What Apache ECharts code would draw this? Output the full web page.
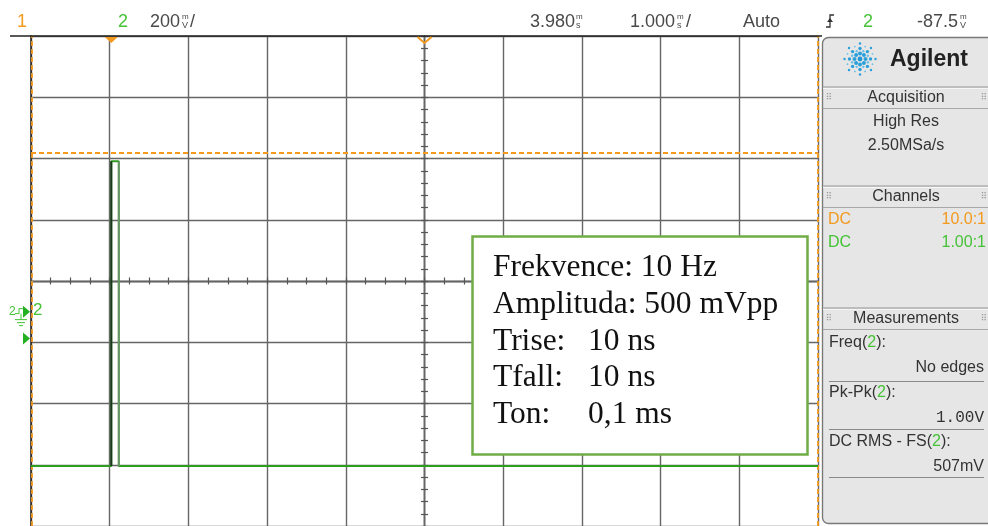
<!DOCTYPE html>
<html><head><meta charset="utf-8">
<script src="https://cdn.jsdelivr.net/npm/echarts@6/dist/echarts.min.js"></script>
<style>html,body{margin:0;padding:0;background:#fff;}#c{width:988px;height:526px;}</style>
</head><body><div id="c"></div>
<script>
// ---------- data ----------
const traceTimeMs = [-1.02, 0.0, 0.0, 0.095, 0.095, 8.98];      // ms
const traceVolts  = [-0.504, -0.504, 0.491, 0.491, -0.504, -0.504]; // V (ch2)
const ch1Level = 0.515;          // orange dashed level (V)
const cursorTimes = [-1.013, 8.98]; // orange dashed verticals (ms)
const triggerTime = 0.0;          // ms
const delayTime = 3.98;           // ms
const ch2Ground = 0.0;            // V
const triggerLevel = -0.0875;     // V
const timeRange = [-1.02, 8.98];
const voltRange = [-0.7, 0.9];

const topBarTexts = ['1', '2', '200', '3.980', '1.000', 'Auto', '2', '-87.5'];
const boxLabels = ['Frekvence: 10 Hz', 'Amplituda: 500 mVpp', 'Trise:', 'Tfall:', 'Ton:'];
const boxValues = ['', '', '10 ns', '10 ns', '0,1 ms'];
const acqTexts = ['High Res', '2.50MSa/s'];
const chanRows = [['DC', '10.0:1'], ['DC', '1.00:1']];
const measNames = ['Freq', 'Pk-Pk', 'DC RMS - FS'];
const measValues = ['No edges', '1.00V', '507mV'];

// ---------- style ----------
const ORANGE = '#f39a1e', GREEN = '#45c236', GRID = '#666666', TXT = '#4a4a4a';
const SANS = '"Liberation Sans", Arial, sans-serif';
const SERIF = '31.5px "Liberation Serif", "Times New Roman", serif';
const chart = echarts.init(document.getElementById('c'), null, {renderer: 'canvas'});
const gridRect = {left: 31, top: 36, width: 787, height: 490};
const tickLine = {color: '#555', width: 1.2};

function centerAxisX(gi, inside) {
  return {gridIndex: gi, type: 'value', min: -5, max: 5, interval: 1,
    axisLine: {show: true, onZero: true, lineStyle: {color: GRID, width: 1.4}},
    axisTick: {show: true, inside: inside, length: 3.5, lineStyle: tickLine},
    minorTick: {show: true, splitNumber: 4, length: 3.5, lineStyle: tickLine},
    axisLabel: {show: false}, splitLine: {show: false}};
}
function centerAxisY(gi, inside) {
  return {gridIndex: gi, type: 'value', min: -4, max: 4, interval: 1,
    axisLine: {show: true, onZero: true, lineStyle: {color: GRID, width: 1.4}},
    axisTick: {show: true, inside: inside, length: 3.5, lineStyle: tickLine},
    minorTick: {show: true, splitNumber: 5, length: 3.5, lineStyle: tickLine},
    axisLabel: {show: false}, splitLine: {show: false}};
}

const pts = traceTimeMs.map((t, i) => [t, traceVolts[i]]);

const option = {
  animation: false,
  backgroundColor: '#ffffff',
  grid: [0, 1, 2, 3].map(() => Object.assign({containLabel: false}, gridRect)),
  xAxis: [
    {gridIndex: 0, type: 'value', min: -5, max: 5, interval: 1,
      axisLine: {show: false}, axisTick: {show: false}, axisLabel: {show: false},
      splitLine: {show: true, lineStyle: {color: GRID, width: 1.4}}},
    centerAxisX(1, false), centerAxisX(2, true),
    {gridIndex: 3, type: 'value', min: timeRange[0], max: timeRange[1], show: false}
  ],
  yAxis: [
    {gridIndex: 0, type: 'value', min: -4, max: 4, interval: 1,
      axisLine: {show: true, onZero: false, lineStyle: {color: '#222', width: 1.5}},
      axisTick: {show: false}, axisLabel: {show: false},
      splitLine: {show: true, lineStyle: {color: GRID, width: 1.4}}},
    centerAxisY(1, false), centerAxisY(2, true),
    {gridIndex: 3, type: 'value', min: voltRange[0], max: voltRange[1], show: false}
  ],
  series: [
    {type: 'line', xAxisIndex: 3, yAxisIndex: 3, data: pts, symbol: 'none', z: 5,
      lineStyle: {color: '#2e9d1f', width: 2},
      markLine: {symbol: 'none', silent: true, label: {show: false},
        lineStyle: {color: ORANGE, type: [5, 3], width: 1.8},
        data: [{yAxis: ch1Level}, {xAxis: cursorTimes[0]}, {xAxis: cursorTimes[1]}]}},
    {type: 'line', xAxisIndex: 3, yAxisIndex: 3, data: pts.slice(1, 3), symbol: 'none', z: 6,
      lineStyle: {color: '#1d361d', width: 2}},
    {type: 'line', xAxisIndex: 3, yAxisIndex: 3, data: pts.slice(3, 5), symbol: 'none', z: 6,
      lineStyle: {color: '#6f8f6f', width: 1.6}}
  ]
};
chart.setOption(option);

const px = (t, v) => chart.convertToPixel({xAxisIndex: 3, yAxisIndex: 3}, [t, v]);
const g = [];
function txt(x, y, s, opt) {
  g.push({type: 'text', x: x, y: y, z: 50,
    style: Object.assign({text: s, fill: TXT, font: '18px ' + SANS, verticalAlign: 'middle', align: 'left'}, opt || {})});
}
function stackUnit(x, top, bottom) {
  txt(x, 17, top, {font: '8px ' + SANS});
  txt(x, 26, bottom, {font: '9px ' + SANS});
}

// top bar
g.push({type: 'line', z: 40, shape: {x1: 10, y1: 36, x2: 822, y2: 36}, style: {stroke: '#222', lineWidth: 1.5}});
txt(17, 22, topBarTexts[0], {fill: ORANGE});
txt(118, 22, topBarTexts[1], {fill: GREEN});
txt(150, 22, topBarTexts[2]);
stackUnit(182, 'm', 'V'); txt(190, 22, '/');
txt(530, 22, topBarTexts[3]);
stackUnit(576, 'm', 's');
txt(630, 22, topBarTexts[4]);
stackUnit(677, 'm', 's'); txt(686, 22, '/');
txt(743, 22, topBarTexts[5]);
// trigger slope icon
g.push({type: 'polyline', z: 50, shape: {points: [[826, 27], [830, 27], [830, 15], [834, 15]]}, style: {stroke: '#333', lineWidth: 1.3, fill: null}});
g.push({type: 'polygon', z: 50, shape: {points: [[827, 22], [833, 22], [830, 18]]}, style: {fill: '#333'}});
txt(863, 22, topBarTexts[6], {fill: GREEN});
txt(917, 22, topBarTexts[7]);
stackUnit(960, 'm', 'V');

// trigger / delay markers on top edge
const trg = px(triggerTime, 0), dly = px(delayTime, 0);
g.push({type: 'polygon', z: 45, shape: {points: [[trg[0] - 6.5, 37], [trg[0] + 6.5, 37], [trg[0], 43]]}, style: {fill: ORANGE}});
g.push({type: 'polyline', z: 45, shape: {points: [[dly[0] - 7, 37], [dly[0], 43], [dly[0] + 7, 37]]}, style: {stroke: ORANGE, lineWidth: 2, fill: null}});

// left channel markers
const gnd = px(0, ch2Ground), tl = px(0, triggerLevel);
txt(9, gnd[1] + 0, '2', {fill: GREEN, font: '12px ' + SANS});
g.push({type: 'polygon', z: 45, shape: {points: [[23, gnd[1] - 6], [23, gnd[1] + 6], [30, gnd[1]]]}, style: {fill: '#22b020'}});
txt(33, gnd[1] - 1, '2', {fill: GREEN, font: '17px ' + SANS});
g.push({type: 'polyline', z: 45, shape: {points: [[15, gnd[1] + 2], [19, gnd[1] + 2], [19, gnd[1] - 3], [23, gnd[1] - 3]]}, style: {stroke: GREEN, lineWidth: 1, fill: null}});
g.push({type: 'line', z: 45, shape: {x1: 21, y1: gnd[1] + 2, x2: 21, y2: gnd[1] + 8}, style: {stroke: GREEN, lineWidth: 1}});
[[15, 27, 8], [17, 25, 11], [19, 23, 14]].forEach(a => g.push({type: 'line', z: 45, shape: {x1: a[0], y1: gnd[1] + a[2], x2: a[1], y2: gnd[1] + a[2]}, style: {stroke: GREEN, lineWidth: 1}}));
g.push({type: 'polygon', z: 45, shape: {points: [[23, tl[1] - 6], [23, tl[1] + 6], [30, tl[1]]]}, style: {fill: '#22b020'}});

// text box
g.push({type: 'rect', z: 30, shape: {x: 472.5, y: 236.5, width: 335, height: 218}, style: {fill: '#fff', stroke: '#70ad47', lineWidth: 2.5}});
const boxY = [268, 304.7, 341.3, 378, 414.5];
boxLabels.forEach((s, i) => {
  txt(493, boxY[i], s, {fill: '#111', font: SERIF});
  if (boxValues[i]) txt(588, boxY[i], boxValues[i], {fill: '#111', font: SERIF});
});

// right panel
g.push({type: 'rect', z: 30, shape: {x: 822.5, y: 37.5, width: 180, height: 486, r: 6}, style: {fill: '#e6e6e6', stroke: '#7a7a7a', lineWidth: 1.4}});
// logo
const lc = [860, 59];
g.push({type: 'circle', z: 41, shape: {cx: lc[0], cy: lc[1], r: 2.4}, style: {fill: '#1f95d4'}});
for (let k = 0; k < 8; k++) {
  const a = k * Math.PI / 4;
  [[5.5, 2.0], [10.5, 1.7], [15.5, 1.2]].forEach(d => g.push({type: 'circle', z: 41,
    shape: {cx: lc[0] + Math.cos(a) * d[0], cy: lc[1] + Math.sin(a) * d[0], r: d[1]}, style: {fill: '#2a9fda'}}));
  const b = a + Math.PI / 8;
  [[8.5, 1.2], [13.5, 0.9]].forEach(d => g.push({type: 'circle', z: 41,
    shape: {cx: lc[0] + Math.cos(b) * d[0], cy: lc[1] + Math.sin(b) * d[0], r: d[1]}, style: {fill: '#6cbde8'}}));
}
txt(890, 60, 'Agilent', {fill: '#222', font: 'bold 23px ' + SANS});

function sectionHeader(y, title) {
  g.push({type: 'rect', z: 41, shape: {x: 823, y: y - 12, width: 165, height: 2}, style: {fill: '#bdbdbd'}});
  g.push({type: 'line', z: 41, shape: {x1: 823, y1: y - 9.5, x2: 988, y2: y - 9.5}, style: {stroke: '#f6f6f6', lineWidth: 1}});
  g.push({type: 'line', z: 41, shape: {x1: 823, y1: y + 10.5, x2: 988, y2: y + 10.5}, style: {stroke: '#a8a8a8', lineWidth: 1}});
  txt(906, y, title, {align: 'center', font: '16px ' + SANS, fill: '#333'});
  txt(829, y, '⠿', {font: '9px "DejaVu Sans"', align: 'center', fill: '#999'});
  txt(984, y, '⠿', {font: '9px "DejaVu Sans"', align: 'center', fill: '#999'});
}
sectionHeader(98, 'Acquisition');
txt(906, 122, acqTexts[0], {align: 'center', font: '16px ' + SANS, fill: '#333'});
txt(906, 146, acqTexts[1], {align: 'center', font: '16px ' + SANS, fill: '#333'});
sectionHeader(197, 'Channels');
[ORANGE, GREEN].forEach((c, i) => {
  txt(828, 220 + i * 23, chanRows[i][0], {font: '16px ' + SANS, fill: c});
  txt(986, 220 + i * 23, chanRows[i][1], {font: '16px ' + SANS, fill: c, align: 'right'});
});
sectionHeader(319, 'Measurements');
const measY = [343, 393, 442];
measNames.forEach((n, i) => {
  g.push({type: 'text', z: 50, x: 829, y: measY[i], style: {
    text: '{a|' + n + '(}{b|2}{a|):}', verticalAlign: 'middle',
    rich: {a: {font: '16px ' + SANS, fill: '#333'}, b: {font: '16px ' + SANS, fill: GREEN}}}});
  txt(984, measY[i] + 25, measValues[i], {align: 'right', fill: '#333',
    font: (i === 1 ? '16px "Liberation Mono", monospace' : '16px ' + SANS)});
});
[381, 429, 477].forEach(y => g.push({type: 'line', z: 41, shape: {x1: 829, y1: y + 0.5, x2: 984, y2: y + 0.5}, style: {stroke: '#8a8a8a', lineWidth: 1}}));

chart.setOption({graphic: {elements: g}});
</script>
</body></html>
